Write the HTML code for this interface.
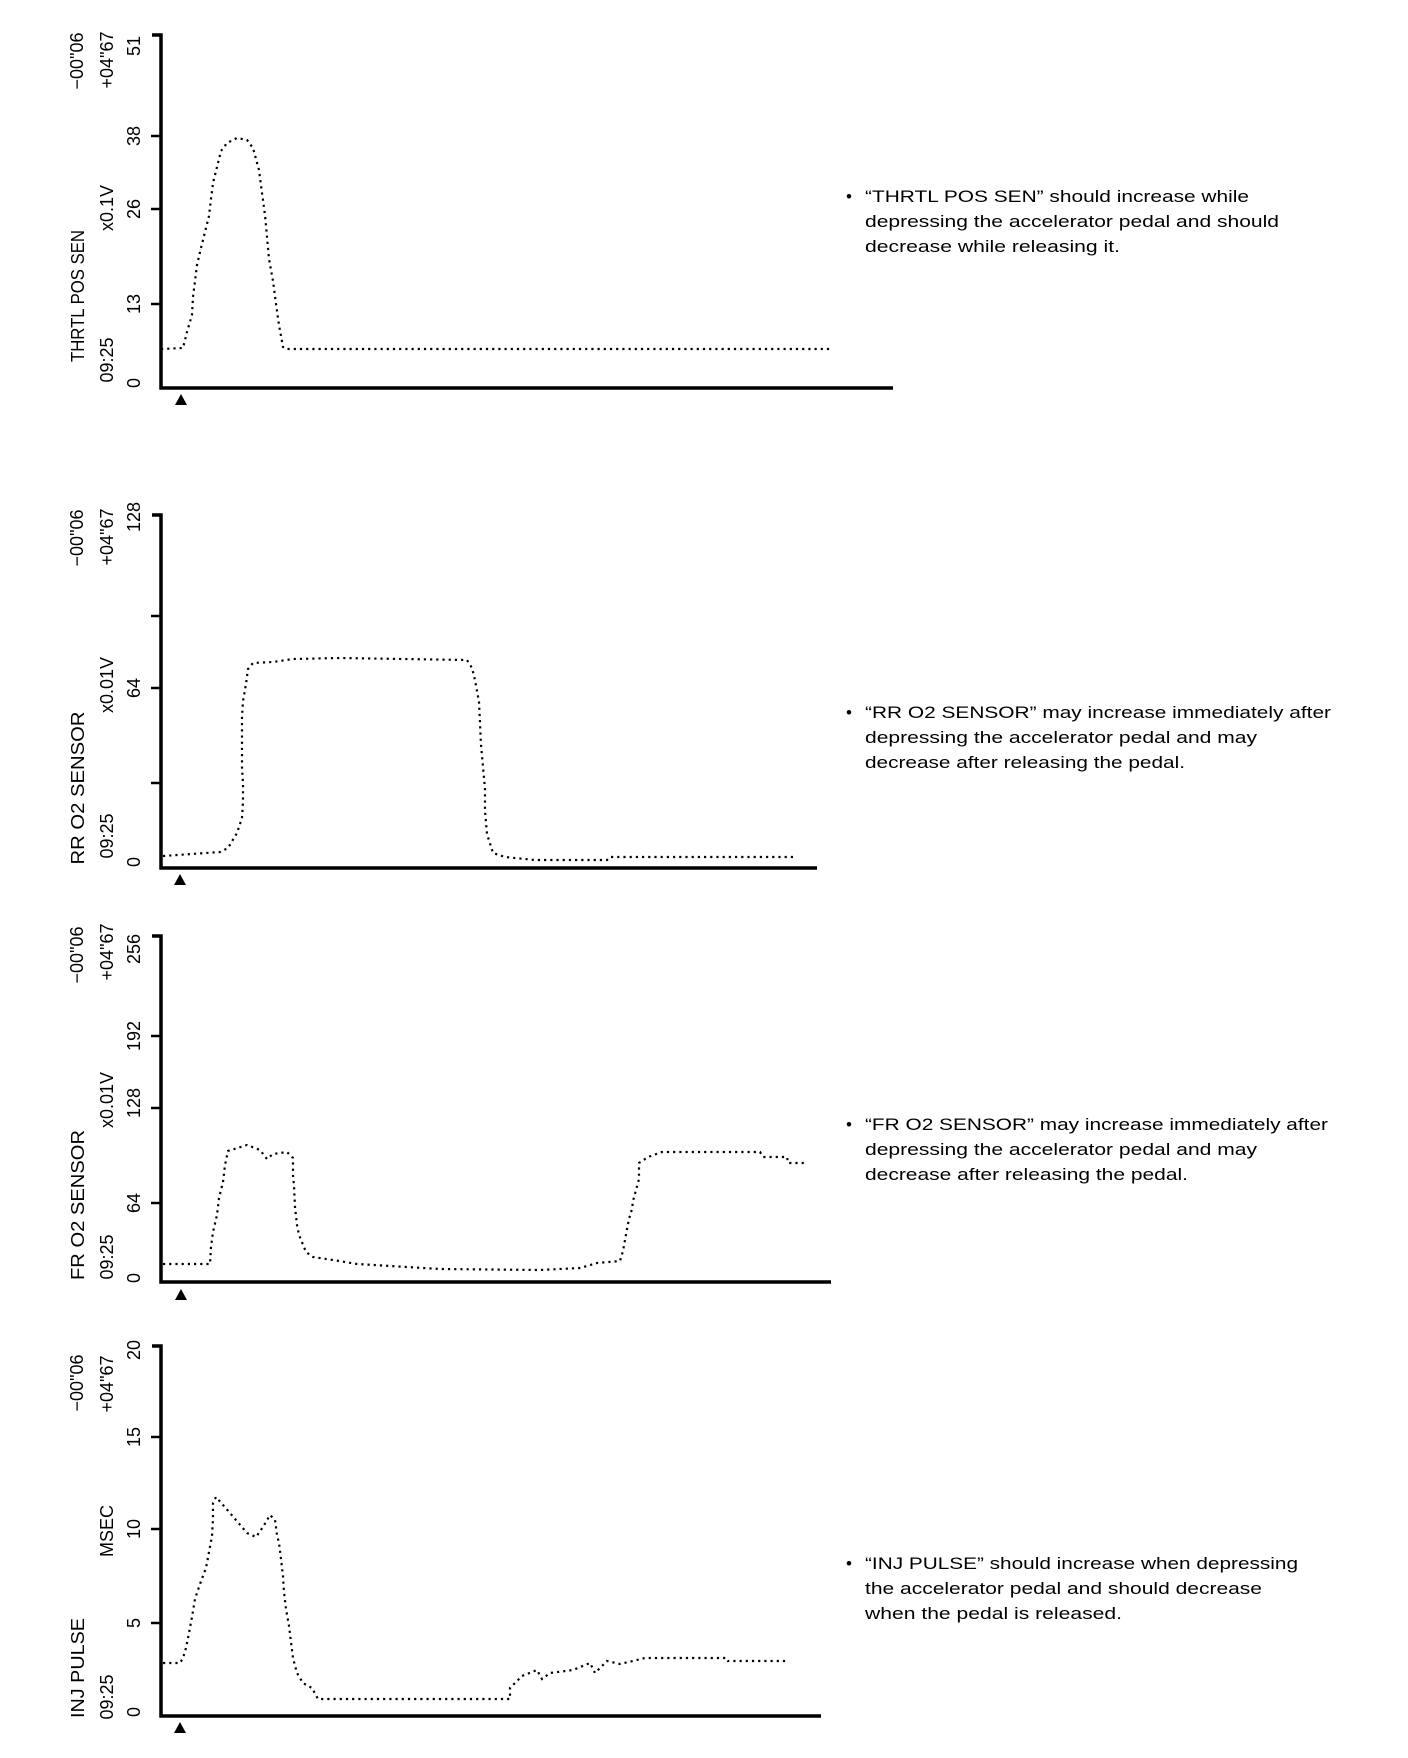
<!DOCTYPE html>
<html><head><meta charset="utf-8"><style>
html,body{margin:0;padding:0;background:#fff;}
svg{display:block;}
text{font-family:"Liberation Sans",Arial,sans-serif;fill:#000;}
.r{font-size:18px;}
.t{font-size:17px;}
.s{fill:none;stroke:#000;stroke-width:2.2;stroke-dasharray:2.2 4;}
.ax{stroke:#000;stroke-width:3.5;fill:none;}
.tk{stroke:#000;stroke-width:2.5;}
</style></head><body>
<svg width="1408" height="1758" viewBox="0 0 1408 1758" xmlns="http://www.w3.org/2000/svg">
<rect width="1408" height="1758" fill="#fff"/>

<!-- ===== Chart 1 ===== -->
<path class="ax" d="M152,35 H161 V388 H893"/>
<line class="tk" x1="151" y1="136" x2="161" y2="136"/>
<line class="tk" x1="151" y1="209" x2="161" y2="209"/>
<line class="tk" x1="151" y1="304" x2="161" y2="304"/>
<g class="r" text-anchor="middle" dominant-baseline="central">
<text transform="translate(78,296) rotate(-90)" textLength="132" lengthAdjust="spacingAndGlyphs">THRTL POS SEN</text>
<text transform="translate(107,360) rotate(-90)">09:25</text>
<text transform="translate(107,208) rotate(-90)">x0.1V</text>
<text transform="translate(107,60) rotate(-90)">+04"67</text>
<text transform="translate(77,61) rotate(-90)">−00"06</text>
<text transform="translate(134,46) rotate(-90)">51</text>
<text transform="translate(134,136) rotate(-90)">38</text>
<text transform="translate(134,209) rotate(-90)">26</text>
<text transform="translate(134,304) rotate(-90)">13</text>
<text transform="translate(134,383) rotate(-90)">0</text>
</g>
<polygon points="181,394 187,405 175,405" fill="#000"/>
<polyline class="s" points="161,349 183,348 187,332 192,315 193,297 195,281 197,265 201,248 205,232 209,216 211,199 213,183 217,167 221,151 227,143 237,138 247,140 253,148 259,170 262,193 265,215 267,237 269,259 273,281 276,304 279,325 283,347 286,349 830,349"/>
<g class="t">
<text x="846" y="202">•</text>
<text x="865" y="202" textLength="384" lengthAdjust="spacingAndGlyphs">“THRTL POS SEN” should increase while</text>
<text x="865" y="227" textLength="414" lengthAdjust="spacingAndGlyphs">depressing the accelerator pedal and should</text>
<text x="865" y="252" textLength="255" lengthAdjust="spacingAndGlyphs">decrease while releasing it.</text>
</g>

<!-- ===== Chart 2 ===== -->
<path class="ax" d="M152,515 H161 V868 H817"/>
<line class="tk" x1="151" y1="616" x2="161" y2="616"/>
<line class="tk" x1="151" y1="688" x2="161" y2="688"/>
<line class="tk" x1="151" y1="783" x2="161" y2="783"/>
<g class="r" text-anchor="middle" dominant-baseline="central">
<text transform="translate(78,788) rotate(-90)" textLength="153" lengthAdjust="spacingAndGlyphs">RR O2 SENSOR</text>
<text transform="translate(107,836) rotate(-90)">09:25</text>
<text transform="translate(107,685) rotate(-90)">x0.01V</text>
<text transform="translate(107,537) rotate(-90)">+04"67</text>
<text transform="translate(77,538) rotate(-90)">−00"06</text>
<text transform="translate(134,517) rotate(-90)">128</text>
<text transform="translate(134,688) rotate(-90)">64</text>
<text transform="translate(134,862) rotate(-90)">0</text>
</g>
<polygon points="180,874 186,885 174,885" fill="#000"/>
<polyline class="s" points="163,856 220,852 228,848 237,833 242,818 243,802 243,784 242,767 242,752 242,733 242,717 243,701 246,684 248,669 253,663 273,662 293,659 340,658 467,660 472,668 475,680 479,702 480,723 481,745 483,767 485,789 485,811 487,834 493,853 505,857 535,860 607,860 610,857 795,857"/>
<g class="t">
<text x="846" y="718">•</text>
<text x="865" y="718" textLength="466" lengthAdjust="spacingAndGlyphs">“RR O2 SENSOR” may increase immediately after</text>
<text x="865" y="743" textLength="392" lengthAdjust="spacingAndGlyphs">depressing the accelerator pedal and may</text>
<text x="865" y="768" textLength="320" lengthAdjust="spacingAndGlyphs">decrease after releasing the pedal.</text>
</g>

<!-- ===== Chart 3 ===== -->
<path class="ax" d="M152,936 H161 V1282 H831"/>
<line class="tk" x1="151" y1="1036" x2="161" y2="1036"/>
<line class="tk" x1="151" y1="1108" x2="161" y2="1108"/>
<line class="tk" x1="151" y1="1203" x2="161" y2="1203"/>
<g class="r" text-anchor="middle" dominant-baseline="central">
<text transform="translate(78,1205) rotate(-90)" textLength="150" lengthAdjust="spacingAndGlyphs">FR O2 SENSOR</text>
<text transform="translate(107,1257) rotate(-90)">09:25</text>
<text transform="translate(107,1100) rotate(-90)">x0.01V</text>
<text transform="translate(107,952) rotate(-90)">+04"67</text>
<text transform="translate(77,955) rotate(-90)">−00"06</text>
<text transform="translate(134,949) rotate(-90)">256</text>
<text transform="translate(134,1036) rotate(-90)">192</text>
<text transform="translate(134,1103) rotate(-90)">128</text>
<text transform="translate(134,1203) rotate(-90)">64</text>
<text transform="translate(134,1278) rotate(-90)">0</text>
</g>
<polygon points="181,1289 187,1300 175,1300" fill="#000"/>
<polyline class="s" points="163,1264 210,1264 211,1247 213,1232 217,1215 219,1198 223,1182 225,1165 228,1151 247,1145 260,1150 267,1159 273,1154 287,1152 293,1158 293,1175 294,1186 295,1207 297,1225 299,1235 306,1252 313,1257 333,1260 357,1264 440,1269 540,1270 580,1268 597,1263 620,1261 623,1251 625,1240 627,1229 629,1219 632,1209 633,1201 636,1190 639,1179 639,1163 648,1157 662,1152 760,1152 763,1157 787,1157 788,1163 807,1163"/>
<g class="t">
<text x="846" y="1130">•</text>
<text x="865" y="1130" textLength="463" lengthAdjust="spacingAndGlyphs">“FR O2 SENSOR” may increase immediately after</text>
<text x="865" y="1155" textLength="392" lengthAdjust="spacingAndGlyphs">depressing the accelerator pedal and may</text>
<text x="865" y="1180" textLength="323" lengthAdjust="spacingAndGlyphs">decrease after releasing the pedal.</text>
</g>

<!-- ===== Chart 4 ===== -->
<path class="ax" d="M152,1346 H161 V1716 H821"/>
<line class="tk" x1="151" y1="1437" x2="161" y2="1437"/>
<line class="tk" x1="151" y1="1529" x2="161" y2="1529"/>
<line class="tk" x1="151" y1="1623" x2="161" y2="1623"/>
<g class="r" text-anchor="middle" dominant-baseline="central">
<text transform="translate(78,1668) rotate(-90)" textLength="100" lengthAdjust="spacingAndGlyphs">INJ PULSE</text>
<text transform="translate(107,1697) rotate(-90)">09:25</text>
<text transform="translate(107,1531) rotate(-90)">MSEC</text>
<text transform="translate(107,1384) rotate(-90)">+04"67</text>
<text transform="translate(77,1383) rotate(-90)">−00"06</text>
<text transform="translate(134,1350) rotate(-90)">20</text>
<text transform="translate(134,1437) rotate(-90)">15</text>
<text transform="translate(134,1529) rotate(-90)">10</text>
<text transform="translate(134,1623) rotate(-90)">5</text>
<text transform="translate(134,1712) rotate(-90)">0</text>
</g>
<polygon points="180,1722 186,1733 174,1733" fill="#000"/>
<polyline class="s" points="163,1663 180,1663 183,1658 186,1648 189,1633 192,1617 195,1599 200,1584 206,1568 209,1552 212,1536 213,1519 213,1503 216,1497 230,1513 247,1533 256,1537 263,1527 270,1515 275,1520 277,1535 279,1543 281,1559 283,1576 284,1592 286,1609 289,1626 291,1642 293,1658 297,1673 303,1683 312,1688 318,1699 510,1699 510,1688 522,1676 537,1670 542,1679 550,1673 573,1670 590,1663 595,1673 603,1665 607,1661 620,1664 633,1661 645,1658 727,1658 728,1661 787,1661"/>
<g class="t">
<text x="846" y="1569">•</text>
<text x="865" y="1569" textLength="433" lengthAdjust="spacingAndGlyphs">“INJ PULSE” should increase when depressing</text>
<text x="865" y="1594" textLength="397" lengthAdjust="spacingAndGlyphs">the accelerator pedal and should decrease</text>
<text x="865" y="1619" textLength="257" lengthAdjust="spacingAndGlyphs">when the pedal is released.</text>
</g>
</svg>
</body></html>
